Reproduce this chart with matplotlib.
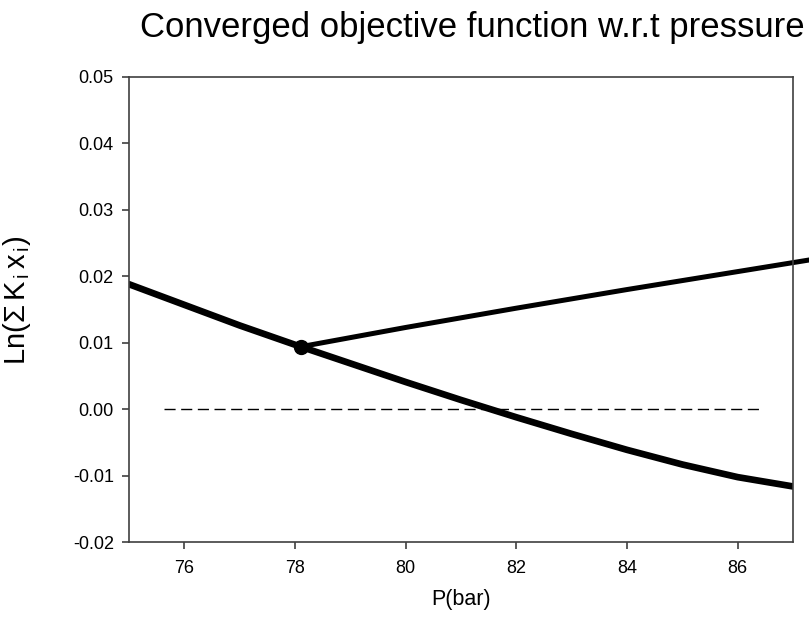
import matplotlib
matplotlib.use("Agg")
import matplotlib.pyplot as plt

plt.rcParams['font.family'] = ['Liberation Sans', 'DejaVu Sans']
plt.rcParams['mathtext.fontset'] = 'custom'
plt.rcParams['mathtext.rm'] = 'Liberation Sans'
plt.rcParams['mathtext.it'] = 'Liberation Sans'

# converged branch of ln(sum K_i x_i) against pressure
pressure = [75, 76, 77, 78, 79, 80, 81, 82, 83, 84, 85, 86, 87]
objective = [0.0188, 0.0157, 0.0126, 0.0097, 0.0069, 0.0041, 0.0014,
             -0.0012, -0.0037, -0.0061, -0.0083, -0.0102, -0.0116]

# second branch starting from the converged point
branch_p = [78.1, 80, 82, 84, 86, 88]
branch_obj = [0.0094, 0.0123, 0.0152, 0.0180, 0.0207, 0.0234]

# converged point
conv_p = [78.1]
conv_obj = [0.0094]

# zero reference line
zero_p = [75.63, 86.41]
zero_obj = [0.0, 0.0]

x_ticks = [76, 78, 80, 82, 84, 86]
y_ticks = [-0.02, -0.01, 0.00, 0.01, 0.02, 0.03, 0.04, 0.05]

fig = plt.figure(figsize=(8.09, 6.2), dpi=100)
ax = fig.add_axes([0.1595, 0.1253, 0.8207, 0.7510])

ax.plot(zero_p, zero_obj, color='black', linewidth=1.0, dashes=(8, 4))
ax.plot(pressure, objective, color='black', linewidth=4.8,
        solid_capstyle='round')
ax.plot(branch_p, branch_obj, color='black', linewidth=3.6, clip_on=False,
        solid_capstyle='butt')
ax.plot(conv_p, conv_obj, 'o', color='black', markersize=10)

ax.set_xlim(75, 87)
ax.set_ylim(-0.02, 0.05)
ax.set_xticks(x_ticks)
ax.set_yticks(y_ticks)
ax.set_xticklabels([str(v) for v in x_ticks])
ax.set_yticklabels([f"{v:.2f}" for v in y_ticks])

for s in ax.spines.values():
    s.set_color('#404040')
    s.set_linewidth(1.2)
ax.tick_params(direction='out', length=5, width=1.2, color='#404040',
               labelsize=13, top=False, right=False)
ax.tick_params(axis='x', pad=8)
ax.tick_params(axis='y', pad=6)

ax.set_xlabel('P(bar)', fontsize=15.5)
ax.xaxis.set_label_coords(0.5, -0.10)
ax.set_ylabel(r'Ln($\mathregular{\Sigma\,K_{\,i}\,x_{\,i}}$)', fontsize=21)
ax.yaxis.set_label_coords(-0.145, 0.52)

fig.text(0.584, 0.940, 'Converged objective function w.r.t pressure',
         fontsize=25, ha='center', va='baseline')

fig.savefig('out.png', dpi=100)
